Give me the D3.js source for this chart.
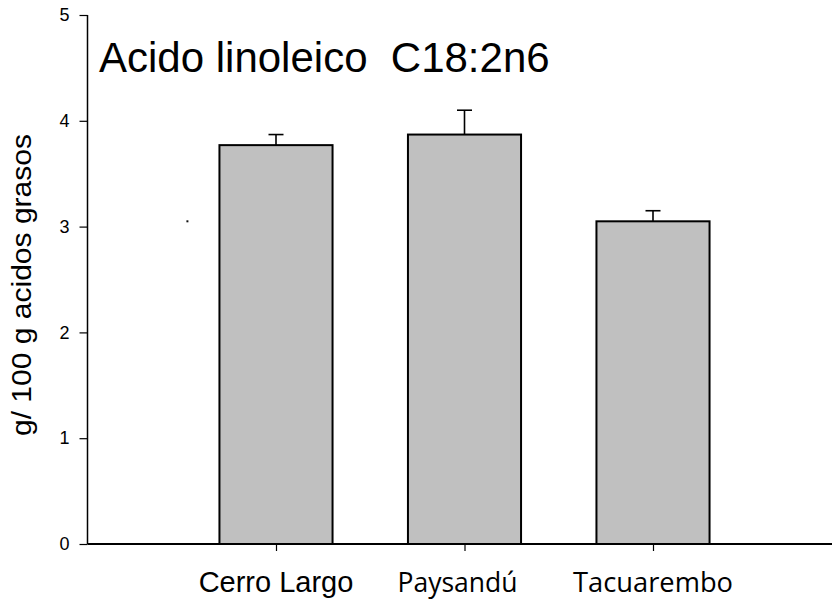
<!DOCTYPE html>
<html>
<head>
<meta charset="utf-8">
<script src="https://cdn.jsdelivr.net/npm/d3@7"></script>
<style>
  html, body { margin: 0; padding: 0; background: #fff; }
  svg { display: block; }
</style>
</head>
<body>
<svg id="chart" width="832" height="600"></svg>
<script>
// Linoleic acid (C18:2n6) content by department
const categories = ["Cerro Largo", "Paysandú", "Tacuarembo"];
const positions  = [1, 2, 3];
const means      = [3.77, 3.87, 3.05];
const errors     = [0.10, 0.23, 0.10];
const yTicks     = [0, 1, 2, 3, 4, 5];
const strayPoint = [[0.53, 3.05]];

const svg = d3.select("#chart");

const x = d3.scaleLinear().domain([0, 4]).range([87.5, 841.5]);
const y = d3.scaleLinear().domain([0, 5]).range([544, 15]);
const barHalf = 0.3;

// bars
svg.append("g").selectAll("rect")
  .data(means)
  .join("rect")
  .attr("x", (d, i) => x(positions[i] - barHalf))
  .attr("width", (d, i) => x(positions[i] + barHalf) - x(positions[i] - barHalf))
  .attr("y", d => y(d))
  .attr("height", d => y(0) - y(d))
  .attr("fill", "#c0c0c0")
  .attr("stroke", "#000")
  .attr("stroke-width", 2);

// error bars (upper only)
const eb = svg.append("g").attr("stroke", "#000").attr("stroke-width", 1.6);
eb.selectAll("line.v")
  .data(means)
  .join("line")
  .attr("class", "v")
  .attr("x1", (d, i) => x(positions[i]))
  .attr("x2", (d, i) => x(positions[i]))
  .attr("y1", d => y(d))
  .attr("y2", (d, i) => y(d + errors[i]));
eb.selectAll("line.c")
  .data(means)
  .join("line")
  .attr("class", "c")
  .attr("x1", (d, i) => x(positions[i]) - 7.5)
  .attr("x2", (d, i) => x(positions[i]) + 7.5)
  .attr("y1", (d, i) => y(d + errors[i]))
  .attr("y2", (d, i) => y(d + errors[i]));

// stray point
svg.append("g").selectAll("rect")
  .data(strayPoint)
  .join("rect")
  .attr("x", d => x(d[0]) - 1)
  .attr("y", d => y(d[1]) - 1)
  .attr("width", 2)
  .attr("height", 2)
  .attr("fill", "#111");

// y axis
const yAxis = svg.append("g")
  .attr("transform", `translate(${x(0)},0)`)
  .call(d3.axisLeft(y).tickValues(yTicks).tickSize(8).tickPadding(10).tickFormat(d3.format("d")));
yAxis.select(".domain").attr("stroke-width", 1.5).attr("d", `M0,${y(5)}H0V${y(0)}`);
yAxis.selectAll(".tick line").attr("stroke-width", 1.2);
yAxis.selectAll("text")
  .attr("font-family", "Liberation Sans, Arial, sans-serif")
  .attr("font-size", 18)
  .attr("fill", "#000");

// x axis
const xAxis = svg.append("g")
  .attr("transform", `translate(0,${y(0)})`)
  .call(d3.axisBottom(x).tickValues(positions).tickSize(7).tickFormat(""));
xAxis.select(".domain").attr("stroke-width", 2).attr("d", `M${x(0)},0H832`);
xAxis.selectAll(".tick line").attr("stroke-width", 1.2);

// category labels
const labelLen = [null, 120, 160];
svg.append("g").selectAll("text")
  .data(categories)
  .join("text")
  .attr("x", (d, i) => x(positions[i]) - (i === 1 ? 7 : 0))
  .attr("y", 592)
  .attr("text-anchor", "middle")
  .attr("font-family", (d, i) => i === 0 ? "Liberation Sans, Arial, sans-serif" : "Open Sans, sans-serif")
  .attr("font-size", (d, i) => i === 0 ? 29 : 28)
  .attr("fill", "#000")
  .each(function (d, i) {
    if (labelLen[i]) d3.select(this).attr("textLength", labelLen[i]).attr("lengthAdjust", "spacingAndGlyphs");
  })
  .text(d => d);

// y axis title
svg.append("text")
  .attr("transform", `translate(31,285) rotate(-90)`)
  .attr("text-anchor", "middle")
  .attr("font-family", "Liberation Sans, Arial, sans-serif")
  .attr("font-size", 28)
  .attr("textLength", 302)
  .attr("lengthAdjust", "spacingAndGlyphs")
  .attr("fill", "#000")
  .text("g/ 100 g acidos grasos");

// chart title
svg.append("text")
  .attr("x", 99)
  .attr("y", 72)
  .attr("font-family", "Liberation Sans, Arial, sans-serif")
  .attr("font-size", 42)
  .attr("fill", "#000")
  .style("white-space", "pre")
  .text("Acido linoleico  C18:2n6");
</script>
</body>
</html>
